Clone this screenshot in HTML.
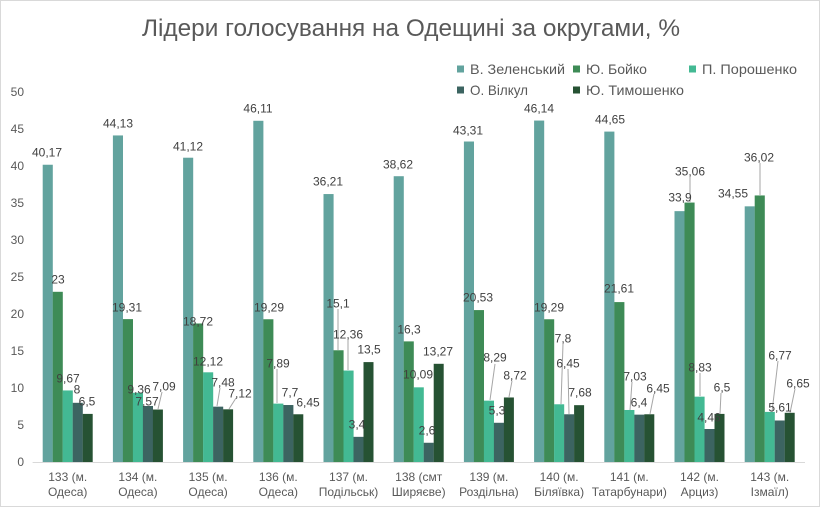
<!DOCTYPE html>
<html>
<head>
<meta charset="utf-8">
<style>
html,body{margin:0;padding:0;background:#fff;}
svg{display:block;}
text{font-family:"Liberation Sans","DejaVu Sans",sans-serif;}
</style>
</head>
<body>
<svg width="820" height="507" viewBox="0 0 820 507" xmlns="http://www.w3.org/2000/svg">
<rect x="0.5" y="0.5" width="819" height="506" fill="#fff" stroke="#d9d9d9"/>
<text x="411" y="36" font-size="24" fill="#595959" text-anchor="middle" textLength="538" lengthAdjust="spacingAndGlyphs">Лідери голосування на Одещині за округами, %</text>

<!-- legend -->
<g font-size="14" fill="#595959">
<rect x="457" y="65.5" width="7" height="7" fill="#62a39e"/>
<text x="470" y="74" textLength="95" lengthAdjust="spacingAndGlyphs">В. Зеленський</text>
<rect x="573" y="65.5" width="7" height="7" fill="#3e8b56"/>
<text x="586" y="74" textLength="61" lengthAdjust="spacingAndGlyphs">Ю. Бойко</text>
<rect x="689" y="65.5" width="7" height="7" fill="#43b993"/>
<text x="702" y="74" textLength="95" lengthAdjust="spacingAndGlyphs">П. Порошенко</text>
<rect x="457" y="86.5" width="7" height="7" fill="#3c6461"/>
<text x="470" y="95" textLength="58" lengthAdjust="spacingAndGlyphs">О. Вілкул</text>
<rect x="573" y="86.5" width="7" height="7" fill="#265233"/>
<text x="586" y="95" textLength="98" lengthAdjust="spacingAndGlyphs">Ю. Тимошенко</text>
</g>

<!-- y axis labels -->
<g font-size="12" fill="#595959" text-anchor="end">
<text x="24" y="466">0</text>
<text x="24" y="429">5</text>
<text x="24" y="392">10</text>
<text x="24" y="355">15</text>
<text x="24" y="318">20</text>
<text x="24" y="281">25</text>
<text x="24" y="244">30</text>
<text x="24" y="207">35</text>
<text x="24" y="170">40</text>
<text x="24" y="133">45</text>
<text x="24" y="96">50</text>
</g>

<!-- bars -->
<g>
<!-- 133 -->
<rect x="42.7" y="164.74" width="10.1" height="297.26" fill="#62a39e"/>
<rect x="52.7" y="291.8" width="10.1" height="170.2" fill="#3e8b56"/>
<rect x="62.7" y="390.44" width="10.1" height="71.56" fill="#43b993"/>
<rect x="72.7" y="402.8" width="10.1" height="59.2" fill="#3c6461"/>
<rect x="82.7" y="413.9" width="10" height="48.1" fill="#265233"/>
<!-- 134 -->
<rect x="112.9" y="135.44" width="10.1" height="326.56" fill="#62a39e"/>
<rect x="122.9" y="319.11" width="10.1" height="142.89" fill="#3e8b56"/>
<rect x="132.9" y="392.74" width="10.1" height="69.26" fill="#43b993"/>
<rect x="142.9" y="405.98" width="10.1" height="56.02" fill="#3c6461"/>
<rect x="152.9" y="409.53" width="10" height="52.47" fill="#265233"/>
<!-- 135 -->
<rect x="183.1" y="157.71" width="10.1" height="304.29" fill="#62a39e"/>
<rect x="193.1" y="323.47" width="10.1" height="138.53" fill="#3e8b56"/>
<rect x="203.1" y="372.31" width="10.1" height="89.69" fill="#43b993"/>
<rect x="213.1" y="406.65" width="10.1" height="55.35" fill="#3c6461"/>
<rect x="223.1" y="409.31" width="10" height="52.69" fill="#265233"/>
<!-- 136 -->
<rect x="253.3" y="120.79" width="10.1" height="341.21" fill="#62a39e"/>
<rect x="263.3" y="319.25" width="10.1" height="142.75" fill="#3e8b56"/>
<rect x="273.3" y="403.61" width="10.1" height="58.39" fill="#43b993"/>
<rect x="283.3" y="405.02" width="10.1" height="56.98" fill="#3c6461"/>
<rect x="293.3" y="414.27" width="10" height="47.73" fill="#265233"/>
<!-- 137 -->
<rect x="323.5" y="194.05" width="10.1" height="267.95" fill="#62a39e"/>
<rect x="333.5" y="350.26" width="10.1" height="111.74" fill="#3e8b56"/>
<rect x="343.5" y="370.54" width="10.1" height="91.46" fill="#43b993"/>
<rect x="353.5" y="436.84" width="10.1" height="25.16" fill="#3c6461"/>
<rect x="363.5" y="362.1" width="10" height="99.9" fill="#265233"/>
<!-- 138 -->
<rect x="393.7" y="176.21" width="10.1" height="285.79" fill="#62a39e"/>
<rect x="403.7" y="341.38" width="10.1" height="120.62" fill="#3e8b56"/>
<rect x="413.7" y="387.33" width="10.1" height="74.67" fill="#43b993"/>
<rect x="423.7" y="442.76" width="10.1" height="19.24" fill="#3c6461"/>
<rect x="433.7" y="363.8" width="10" height="98.2" fill="#265233"/>
<!-- 139 -->
<rect x="463.9" y="141.51" width="10.1" height="320.49" fill="#62a39e"/>
<rect x="473.9" y="310.08" width="10.1" height="151.92" fill="#3e8b56"/>
<rect x="483.9" y="400.65" width="10.1" height="61.35" fill="#43b993"/>
<rect x="493.9" y="422.78" width="10.1" height="39.22" fill="#3c6461"/>
<rect x="503.9" y="397.47" width="10" height="64.53" fill="#265233"/>
<!-- 140 -->
<rect x="534.1" y="120.56" width="10.1" height="341.44" fill="#62a39e"/>
<rect x="544.1" y="319.25" width="10.1" height="142.75" fill="#3e8b56"/>
<rect x="554.1" y="404.28" width="10.1" height="57.72" fill="#43b993"/>
<rect x="564.1" y="414.27" width="10.1" height="47.73" fill="#3c6461"/>
<rect x="574.1" y="405.17" width="10" height="56.83" fill="#265233"/>
<!-- 141 -->
<rect x="604.3" y="131.59" width="10.1" height="330.41" fill="#62a39e"/>
<rect x="614.3" y="302.09" width="10.1" height="159.91" fill="#3e8b56"/>
<rect x="624.3" y="409.98" width="10.1" height="52.02" fill="#43b993"/>
<rect x="634.3" y="414.64" width="10.1" height="47.36" fill="#3c6461"/>
<rect x="644.3" y="414.27" width="10" height="47.73" fill="#265233"/>
<!-- 142 -->
<rect x="674.5" y="211.14" width="10.1" height="250.86" fill="#62a39e"/>
<rect x="684.5" y="202.56" width="10.1" height="259.44" fill="#3e8b56"/>
<rect x="694.5" y="396.66" width="10.1" height="65.34" fill="#43b993"/>
<rect x="704.5" y="429.0" width="10.1" height="33.0" fill="#3c6461"/>
<rect x="714.5" y="413.9" width="10" height="48.1" fill="#265233"/>
<!-- 143 -->
<rect x="744.7" y="206.33" width="10.1" height="255.67" fill="#62a39e"/>
<rect x="754.7" y="195.45" width="10.1" height="266.55" fill="#3e8b56"/>
<rect x="764.7" y="411.9" width="10.1" height="50.1" fill="#43b993"/>
<rect x="774.7" y="420.49" width="10.1" height="41.51" fill="#3c6461"/>
<rect x="784.7" y="412.79" width="10" height="49.21" fill="#265233"/>
</g>

<!-- x axis -->
<line x1="32.6" y1="462.5" x2="805" y2="462.5" stroke="#d9d9d9" stroke-width="1"/>

<!-- leader lines -->
<g stroke="#a6a6a6" stroke-width="1" fill="none">
<line x1="162" y1="392" x2="158" y2="409"/>
<line x1="220" y1="388" x2="217" y2="406"/>
<line x1="236" y1="398" x2="229" y2="409"/>
<line x1="277" y1="369" x2="277" y2="403"/>
<line x1="338" y1="309" x2="338" y2="350"/>
<line x1="348" y1="340" x2="348" y2="370"/>
<line x1="495" y1="364" x2="490" y2="400"/>
<line x1="512" y1="381" x2="509" y2="397"/>
<line x1="563" y1="344" x2="561" y2="404"/>
<line x1="568" y1="369" x2="569" y2="414"/>
<line x1="632" y1="382" x2="630" y2="410"/>
<line x1="654" y1="394" x2="650" y2="414"/>
<line x1="690" y1="177" x2="690" y2="202"/>
<line x1="700" y1="373" x2="700" y2="396"/>
<line x1="721" y1="393" x2="720" y2="414"/>
<line x1="760" y1="163" x2="760" y2="195"/>
<line x1="778" y1="361" x2="772" y2="412"/>
<line x1="795" y1="389" x2="790" y2="413"/>
</g>

<!-- data labels -->
<g font-size="12" fill="#404040" text-anchor="middle">
<text x="47" y="156.3">40,17</text>
<text x="58" y="283.3">23</text>
<text x="68" y="382.3">9,67</text>
<text x="77" y="393.3">8</text>
<text x="87" y="405.3">6,5</text>

<text x="118" y="127.3">44,13</text>
<text x="127" y="311.3">19,31</text>
<text x="139" y="393.3">9,36</text>
<text x="147" y="405.3">7,57</text>
<text x="164" y="390.3">7,09</text>

<text x="188" y="150.3">41,12</text>
<text x="198" y="325.3">18,72</text>
<text x="208" y="365.3">12,12</text>
<text x="223" y="386.3">7,48</text>
<text x="240" y="397.3">7,12</text>

<text x="258" y="112.3">46,11</text>
<text x="269" y="311.3">19,29</text>
<text x="278" y="367.3">7,89</text>
<text x="290" y="396.3">7,7</text>
<text x="308" y="406.3">6,45</text>

<text x="328" y="185.3">36,21</text>
<text x="338" y="307.3">15,1</text>
<text x="348" y="338.3">12,36</text>
<text x="357" y="428.3">3,4</text>
<text x="369" y="353.3">13,5</text>

<text x="398" y="168.3">38,62</text>
<text x="409" y="333.3">16,3</text>
<text x="418" y="378.3">10,09</text>
<text x="427" y="434.3">2,6</text>
<text x="438" y="355.3">13,27</text>

<text x="468" y="134.3">43,31</text>
<text x="478" y="301.3">20,53</text>
<text x="495" y="361.3">8,29</text>
<text x="497" y="414.3">5,3</text>
<text x="515" y="379.3">8,72</text>

<text x="539" y="112.3">46,14</text>
<text x="549" y="311.3">19,29</text>
<text x="563" y="342.3">7,8</text>
<text x="568" y="367.3">6,45</text>
<text x="580" y="396.3">7,68</text>

<text x="610" y="123.3">44,65</text>
<text x="619" y="292.3">21,61</text>
<text x="635" y="380.3">7,03</text>
<text x="639" y="406.3">6,4</text>
<text x="658" y="392.3">6,45</text>

<text x="680" y="201.3">33,9</text>
<text x="690" y="175.3">35,06</text>
<text x="700" y="371.3">8,83</text>
<text x="709" y="421.3">4,46</text>
<text x="722" y="391.3">6,5</text>

<text x="733" y="197.3">34,55</text>
<text x="759" y="161.3">36,02</text>
<text x="780" y="359.3">6,77</text>
<text x="780" y="411.3">5,61</text>
<text x="798" y="387.3">6,65</text>
</g>

<!-- category labels -->
<g font-size="12" fill="#595959" text-anchor="middle">
<text x="67.7" y="481">133 (м.</text><text x="67.7" y="496">Одеса)</text>
<text x="137.9" y="481">134 (м.</text><text x="137.9" y="496">Одеса)</text>
<text x="208.1" y="481">135 (м.</text><text x="208.1" y="496">Одеса)</text>
<text x="278.3" y="481">136 (м.</text><text x="278.3" y="496">Одеса)</text>
<text x="348.5" y="481">137 (м.</text><text x="348.5" y="496">Подільськ)</text>
<text x="418.7" y="481">138 (смт</text><text x="418.7" y="496">Ширяєве)</text>
<text x="488.9" y="481">139 (м.</text><text x="488.9" y="496">Роздільна)</text>
<text x="559.1" y="481">140 (м.</text><text x="559.1" y="496">Біляївка)</text>
<text x="629.3" y="481">141 (м.</text><text x="629.3" y="496">Татарбунари)</text>
<text x="699.5" y="481">142 (м.</text><text x="699.5" y="496">Арциз)</text>
<text x="769.7" y="481">143 (м.</text><text x="769.7" y="496">Ізмаїл)</text>
</g>
</svg>
</body>
</html>
